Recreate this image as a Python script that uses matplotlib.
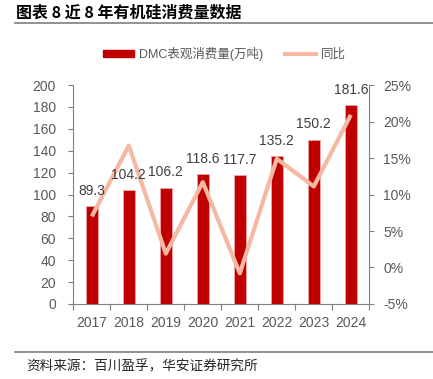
import numpy as np
import matplotlib
matplotlib.use("Agg")
import matplotlib.pyplot as plt
from matplotlib.patches import Patch
from matplotlib.lines import Line2D

plt.rcParams['font.family'] = ['Liberation Sans', 'Noto Sans CJK SC', 'DejaVu Sans']

# data
years = ['2017', '2018', '2019', '2020', '2021', '2022', '2023', '2024']
dmc = [89.3, 104.2, 106.2, 118.6, 117.7, 135.2, 150.2, 181.6]
yoy = [7.0, 16.7, 1.9, 11.7, -0.8, 14.9, 11.1, 20.9]

bar_col = '#C00000'
line_col = '#F5B8A2'
grey = '#595959'
spine_col = '#808080'

fig = plt.figure(figsize=(4.33, 3.79), dpi=100)
ax = fig.add_axes([0.1693, 0.1979, 0.6836, 0.5778])
ax2 = ax.twinx()

x = np.arange(len(years))
ax.bar(x, dmc, width=0.32, color=bar_col, edgecolor='#F2A7A7', linewidth=0.6)
ax2.plot(x, yoy, color=line_col, lw=3, solid_capstyle='butt')

for i, v in enumerate(dmc):
    ax2.annotate('{:.1f}'.format(v), xy=(i, v), xycoords=ax.transData,
                 xytext=(0, 6), textcoords='offset points',
                 ha='center', va='bottom', fontsize=10, color='#404040')

ax.set_xlim(-0.5, 7.5)
ax.set_ylim(0, 200)
ax.set_yticks(np.arange(0, 201, 20))
ax2.set_ylim(-5, 25)
ax2.set_yticks(np.arange(-5, 26, 5))
ax2.set_yticklabels(['{}%'.format(t) for t in range(-5, 26, 5)])

ax.set_xticks(np.arange(-0.5, 8, 1))
ax.set_xticklabels([])
ax.set_xticks(x, minor=True)
ax.set_xticklabels(years, minor=True)
ax.tick_params(axis='x', which='minor', length=0, pad=9, labelsize=10, labelcolor=grey)
ax.tick_params(axis='x', which='major', length=4, color=spine_col, direction='out')
ax.tick_params(axis='y', length=3.5, color=spine_col, pad=9, labelsize=10, labelcolor=grey)
ax2.tick_params(axis='y', length=3.5, color=spine_col, pad=6.5, labelsize=10, labelcolor=grey)

for a in (ax, ax2):
    a.spines['top'].set_visible(False)
    for s in ('left', 'right', 'bottom'):
        a.spines[s].set_color(spine_col)
ax.spines['right'].set_visible(False)
ax2.spines['left'].set_visible(False)
ax2.spines['bottom'].set_visible(False)

handles = [Patch(facecolor=bar_col, edgecolor=bar_col),
           Line2D([0], [0], color=line_col, lw=3)]
fig.legend(handles, ['DMC表观消费量(万吨)', '同比'], loc='center',
           bbox_to_anchor=(0.518, 1 - 54 / 379), ncol=2, frameon=False,
           fontsize=9, labelcolor=grey, handlelength=2.5, handleheight=0.5,
           handletextpad=0.4, columnspacing=1.75)

fig.text(16 / 433, 1 - 13 / 379, '图表 8 近 8 年有机硅消费量数据', fontsize=11.5,
         fontweight='bold', va='center', ha='left',
         family=['Noto Sans CJK SC', 'DejaVu Sans'])
fig.add_artist(Line2D([15 / 433, 1], [1 - 23 / 379] * 2, color='#7F7F7F', lw=1.2))
fig.add_artist(Line2D([15 / 433, 1], [1 - 352 / 379] * 2, color='#7F7F7F', lw=1.2))
fig.text(26 / 433, 1 - 366 / 379, '资料来源：百川盈孚，华安证券研究所', fontsize=9.8,
         va='center', ha='left', color='#262626',
         family=['Noto Sans CJK SC', 'DejaVu Sans'])

fig.savefig('out.png', dpi=100)
